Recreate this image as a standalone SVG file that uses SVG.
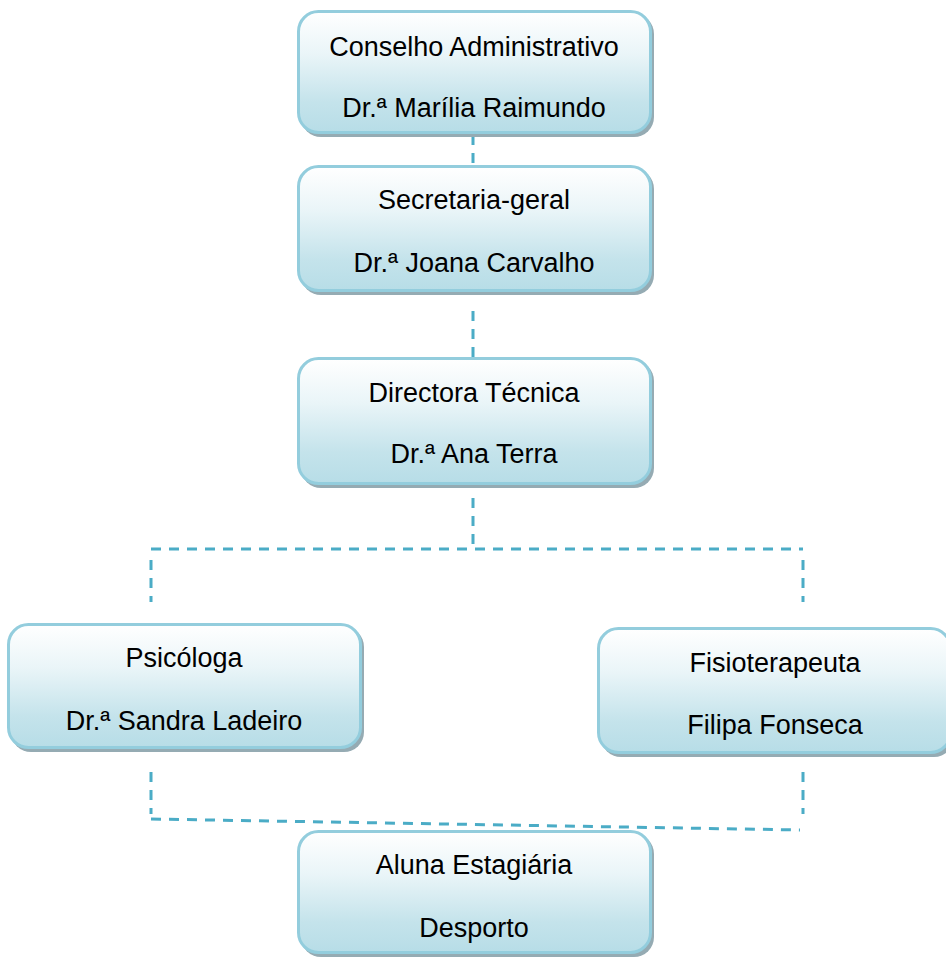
<svg xmlns="http://www.w3.org/2000/svg" width="946" height="960" viewBox="0 0 946 960">
  <defs>
    <linearGradient id="boxFill" x1="0" y1="0" x2="0" y2="1">
      <stop offset="0" stop-color="#ffffff"/>
      <stop offset="0.35" stop-color="#eaf5f8"/>
      <stop offset="0.75" stop-color="#c4e3eb"/>
      <stop offset="1" stop-color="#b7dde7"/>
    </linearGradient>
  </defs>
  <style>
    .shadow { fill: #95abb3; }
    .box { fill: url(#boxFill); stroke: #93cddd; stroke-width: 3; }
    .label { font-family: "Liberation Sans", Arial, sans-serif; font-size: 27px; fill: #000000; text-anchor: middle; }
    .conn { fill: none; stroke: #4bacc6; stroke-width: 3; stroke-dasharray: 10 8; }
  </style>
  <rect width="946" height="960" fill="#ffffff"/>

  <g id="connectors">
    <path class="conn" d="M473,135 V163"/>
    <path class="conn" d="M473,311 V357"/>
    <path class="conn" d="M473,498 V549"/>
    <path class="conn" d="M151,549 H803"/>
    <path class="conn" d="M151,560 V602"/>
    <path class="conn" d="M803,560 V602"/>
    <path class="conn" d="M151,772 V814"/>
    <path class="conn" d="M803,772 V814"/>
    <path class="conn" d="M151,819 L800,830"/>
  </g>

  <g id="conselho">
    <rect class="shadow" x="301" y="14" width="353" height="123" rx="20"/>
    <rect class="box" x="298.5" y="11.5" width="352" height="121" rx="20"/>
    <text class="label" x="474" y="56">Conselho Administrativo</text>
    <text class="label" x="474" y="117">Dr.ª Marília Raimundo</text>
  </g>

  <g id="secretaria">
    <rect class="shadow" x="301" y="169" width="353" height="126" rx="20"/>
    <rect class="box" x="298.5" y="166.5" width="352" height="124" rx="20"/>
    <text class="label" x="474" y="209">Secretaria-geral</text>
    <text class="label" x="474" y="272">Dr.ª Joana Carvalho</text>
  </g>

  <g id="directora">
    <rect class="shadow" x="301" y="361" width="353" height="127" rx="20"/>
    <rect class="box" x="298.5" y="358.5" width="352" height="125" rx="20"/>
    <text class="label" x="474" y="402">Directora Técnica</text>
    <text class="label" x="474" y="463">Dr.ª Ana Terra</text>
  </g>

  <g id="psicologa">
    <rect class="shadow" x="11" y="627" width="353" height="125" rx="20"/>
    <rect class="box" x="8.5" y="624.5" width="352" height="123" rx="20"/>
    <text class="label" x="184" y="667">Psicóloga</text>
    <text class="label" x="184" y="730">Dr.ª Sandra Ladeiro</text>
  </g>

  <g id="fisioterapeuta">
    <rect class="shadow" x="601" y="631" width="353" height="126" rx="20"/>
    <rect class="box" x="598.5" y="628.5" width="352" height="124" rx="20"/>
    <text class="label" x="775" y="672">Fisioterapeuta</text>
    <text class="label" x="775" y="734">Filipa Fonseca</text>
  </g>

  <g id="aluna">
    <rect class="shadow" x="301" y="834" width="353" height="123" rx="20"/>
    <rect class="box" x="298.5" y="831.5" width="352" height="121" rx="20"/>
    <text class="label" x="474" y="874">Aluna Estagiária</text>
    <text class="label" x="474" y="937">Desporto</text>
  </g>
</svg>
